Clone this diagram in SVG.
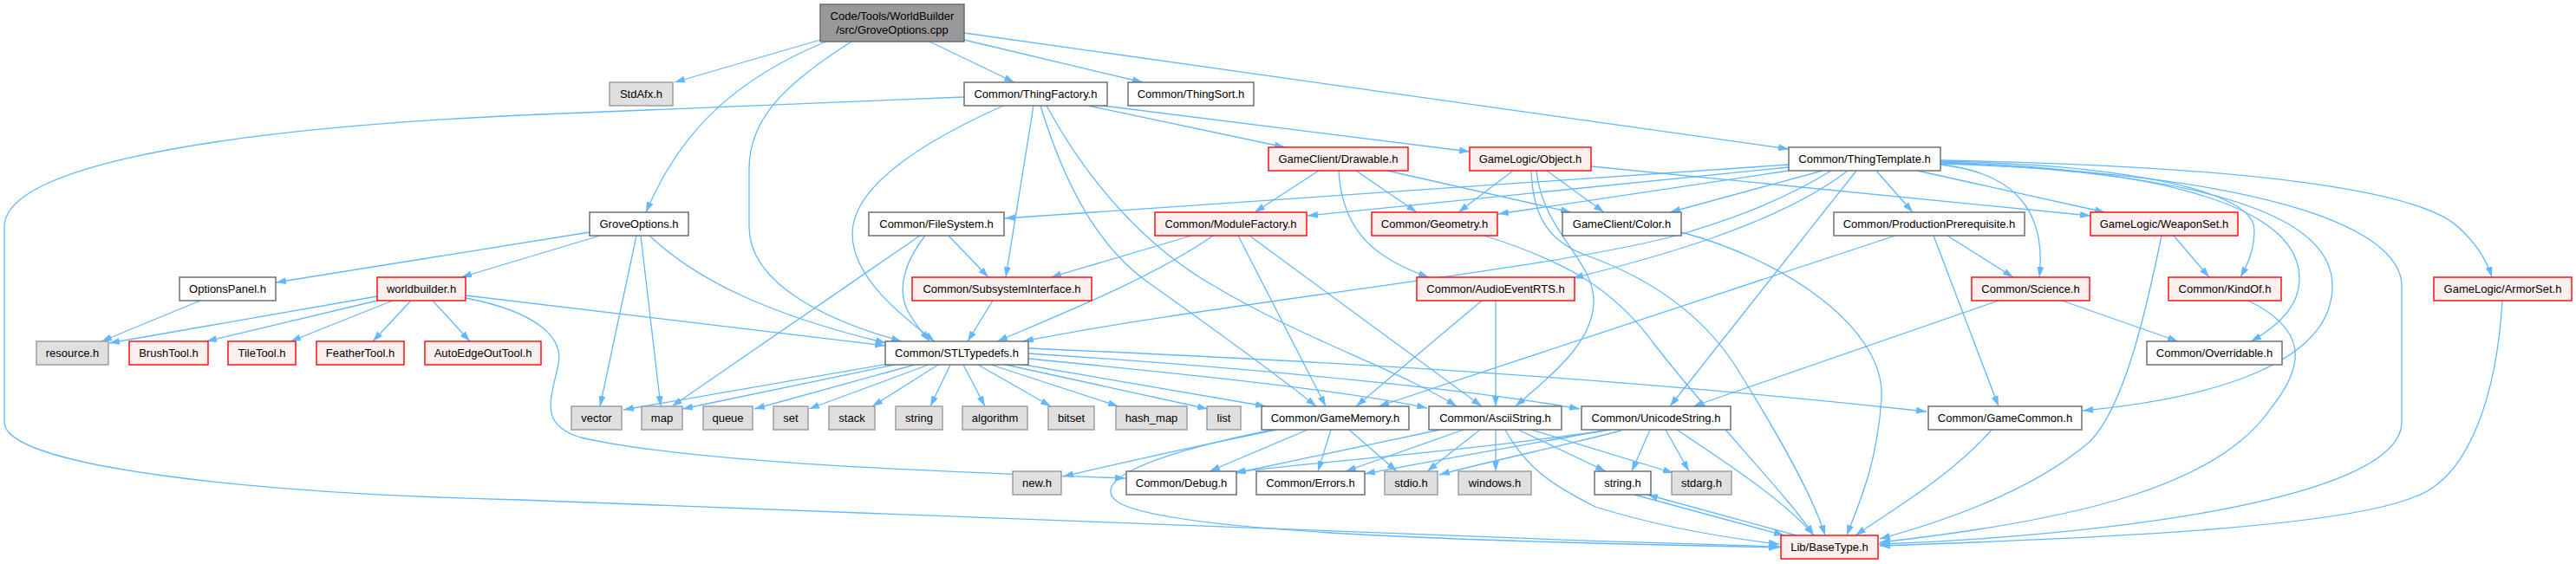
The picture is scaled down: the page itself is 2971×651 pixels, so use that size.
<svg xmlns="http://www.w3.org/2000/svg" width="2971" height="651" viewBox="0 0 2971 651">
<style>
.bg{fill:#fff}
rect{stroke-width:1.4}
.w{fill:#fff;stroke:#666}
.g{fill:#e0e0e0;stroke:#999}
.r{fill:#fff0f0;stroke:#f00}
.m{fill:#999;stroke:#666}
text{font-family:"Liberation Sans",Arial,sans-serif;font-size:13px;fill:#000;text-anchor:middle}
#edges path{fill:none;stroke:#63b8ff;stroke-width:1.3;marker-end:url(#arr)}
</style>
<defs>
<marker id="arr" viewBox="0 0 12 8" refX="12" refY="4" markerWidth="12" markerHeight="8" markerUnits="userSpaceOnUse" orient="auto">
<path d="M0,0 L12,4 L0,8 z" fill="#63b8ff"/>
</marker>
</defs>
<rect class="bg" x="0" y="0" width="2971" height="651"/>
<g id="edges">
<path d="M946,46 L778,95"/>
<path d="M953,48 C850,90 785,150 745,245"/>
<path d="M982,48 C900,100 864,140 864,195 L864,262 C864,330 960,372 1040,394"/>
<path d="M1072,48 L1170,95"/>
<path d="M1112,46 L1318,95"/>
<path d="M1112,38 L2063,172"/>
<path d="M1112,112 L600,133 C200,152 5,200 5,262 L5,487 C5,540 300,570 600,577 C900,588 1500,615 2054,631"/>
<path d="M1157,122 C1050,170 983,220 983,270 C983,320 1040,365 1078,394"/>
<path d="M1192,122 L1160,320"/>
<path d="M1200,122 C1230,220 1270,290 1330,330 C1400,380 1470,430 1518,469"/>
<path d="M1207,122 C1260,220 1330,290 1400,330 C1500,390 1620,430 1680,469"/>
<path d="M1255,122 L1482,170"/>
<path d="M1272,122 L1695,175"/>
<path d="M1521,197 L1447,245"/>
<path d="M1564,197 L1634,245"/>
<path d="M1544,197 C1548,270 1590,300 1648,320"/>
<path d="M1600,197 L1812,245"/>
<path d="M1745,197 L1682,245"/>
<path d="M1784,197 L1850,245"/>
<path d="M1835,192 L2411,249"/>
<path d="M1766,197 C1768,255 1790,280 1830,295 C1900,320 1960,360 2000,420 C2050,500 2090,570 2105,618"/>
<path d="M1772,197 C1780,270 1840,300 1838,350 C1836,400 1780,440 1748,469"/>
<path d="M1712,272 C1800,300 1860,330 1910,400 C1980,490 2060,570 2092,618"/>
<path d="M1939,268 C2060,300 2175,380 2170,460 C2165,540 2140,590 2130,618"/>
<path d="M2063,190 L1159,252"/>
<path d="M2063,193 L1508,249"/>
<path d="M2063,197 L1728,247"/>
<path d="M2102,197 L1926,245"/>
<path d="M2112,197 C2050,235 1990,255 1940,270 C1800,310 1400,350 1180,394"/>
<path d="M2131,197 C2050,260 1900,300 1814,321"/>
<path d="M2141,197 L1926,469"/>
<path d="M2164,197 L2206,245"/>
<path d="M2211,197 L2428,245"/>
<path d="M2238,190 C2330,200 2360,250 2352,320"/>
<path d="M2238,186 C2450,190 2600,220 2600,265 C2600,290 2592,305 2584,320"/>
<path d="M2238,187 C2500,195 2650,240 2652,320 C2653,350 2630,375 2596,394"/>
<path d="M2238,188 C2550,200 2690,250 2690,330 C2690,420 2550,460 2402,474"/>
<path d="M2238,189 C2600,200 2770,260 2770,330 L2770,487 C2770,580 2400,620 2167,628"/>
<path d="M2238,185 C2600,192 2790,220 2835,262 C2855,280 2868,300 2874,320"/>
<path d="M680,268 L318,326"/>
<path d="M692,272 L532,320"/>
<path d="M734,272 L692,469"/>
<path d="M739,272 L762,469"/>
<path d="M749,272 C800,320 880,362 1022,396"/>
<path d="M1061,272 L775,469"/>
<path d="M1067,272 C1045,300 1035,330 1045,355 C1055,375 1065,385 1072,394"/>
<path d="M1094,272 L1140,320"/>
<path d="M1374,272 L1212,320"/>
<path d="M1399,272 C1330,320 1230,360 1150,394"/>
<path d="M1428,272 L1529,469"/>
<path d="M1441,272 L1709,469"/>
<path d="M2186,272 L1590,469"/>
<path d="M2246,272 L2322,320"/>
<path d="M2230,272 L2305,469"/>
<path d="M2507,272 L2548,320"/>
<path d="M2493,272 C2475,360 2450,470 2410,510 C2340,570 2230,605 2168,622"/>
<path d="M231,347 L117,394"/>
<path d="M435,342 L126,396"/>
<path d="M435,347 L238,394"/>
<path d="M453,347 L335,394"/>
<path d="M474,347 L430,394"/>
<path d="M499,347 L542,394"/>
<path d="M537,341 L1021,399"/>
<path d="M537,344 C620,360 650,390 644,420 C636,460 620,490 670,505 C800,535 1100,545 1298,552"/>
<path d="M1145,347 L1116,394"/>
<path d="M1709,347 L1564,469"/>
<path d="M1725,347 L1725,469"/>
<path d="M2305,347 L1953,469"/>
<path d="M2378,347 L2512,394"/>
<path d="M2593,347 C2660,380 2660,420 2620,470 C2560,560 2400,600 2168,626"/>
<path d="M2886,347 C2880,450 2850,550 2786,573 C2700,610 2400,622 2168,630"/>
<path d="M1025,420 L719,473"/>
<path d="M1032,421 L787,472"/>
<path d="M1055,421 L870,472"/>
<path d="M1071,421 L933,472"/>
<path d="M1082,421 L1006,469"/>
<path d="M1096,421 L1073,469"/>
<path d="M1111,421 L1136,469"/>
<path d="M1128,421 L1212,469"/>
<path d="M1143,421 L1290,469"/>
<path d="M1160,421 L1393,472"/>
<path d="M1175,420 L1460,469"/>
<path d="M1186,414 C1350,430 1550,450 1646,471"/>
<path d="M1186,408 C1450,425 1700,450 1822,472"/>
<path d="M1186,402 C1600,420 1900,440 2222,475"/>
<path d="M1472,496 C1380,515 1290,535 1226,550"/>
<path d="M1508,496 L1395,544"/>
<path d="M1535,496 L1520,544"/>
<path d="M1556,496 L1611,544"/>
<path d="M1468,496 C1300,530 1260,560 1290,580 C1350,615 1700,625 2052,632"/>
<path d="M1661,496 L1425,546"/>
<path d="M1688,496 L1552,544"/>
<path d="M1707,496 L1646,544"/>
<path d="M1725,496 L1725,544"/>
<path d="M1736,496 C1760,540 1790,560 1840,585 C1920,610 2000,622 2052,628"/>
<path d="M1751,496 L1852,544"/>
<path d="M1766,496 L1930,546"/>
<path d="M1934,496 C2000,540 2060,580 2092,618"/>
<path d="M1903,496 L1882,544"/>
<path d="M1921,496 L1948,544"/>
<path d="M1857,496 C1700,520 1500,535 1424,545"/>
<path d="M1850,497 C1750,515 1650,532 1574,547"/>
<path d="M1870,497 C1800,515 1720,532 1660,548"/>
<path d="M2297,496 C2250,550 2180,590 2140,618"/>
<path d="M1885,571 L2058,618"/>
<path d="M2072,618 L1900,571"/>
</g>
<g id="n_main"><rect class="m" x="946" y="5" width="166" height="43"/><text x="1029" y="23">Code/Tools/WorldBuilder</text><text x="1029" y="39">/src/GroveOptions.cpp</text></g>
<g id="n_stdafx"><rect class="g" x="703" y="95" width="73" height="27"/><text x="739.5" y="113">StdAfx.h</text></g>
<g id="n_thingfactory"><rect class="w" x="1112" y="95" width="165" height="27"/><text x="1194.5" y="113">Common/ThingFactory.h</text></g>
<g id="n_thingsort"><rect class="w" x="1301" y="95" width="145" height="27"/><text x="1373.5" y="113">Common/ThingSort.h</text></g>
<g id="n_drawable"><rect class="r" x="1463" y="170" width="161" height="27"/><text x="1543.5" y="188">GameClient/Drawable.h</text></g>
<g id="n_object"><rect class="r" x="1695" y="170" width="140" height="27"/><text x="1765" y="188">GameLogic/Object.h</text></g>
<g id="n_thingtemplate"><rect class="w" x="2063" y="170" width="175" height="27"/><text x="2150.5" y="188">Common/ThingTemplate.h</text></g>
<g id="n_groveoptions"><rect class="w" x="680" y="245" width="114" height="27"/><text x="737" y="263">GroveOptions.h</text></g>
<g id="n_filesystem"><rect class="w" x="1002" y="245" width="156" height="27"/><text x="1080" y="263">Common/FileSystem.h</text></g>
<g id="n_modulefactory"><rect class="r" x="1332" y="245" width="175" height="27"/><text x="1419.5" y="263">Common/ModuleFactory.h</text></g>
<g id="n_geometry"><rect class="r" x="1582" y="245" width="145" height="27"/><text x="1654.5" y="263">Common/Geometry.h</text></g>
<g id="n_color"><rect class="w" x="1802" y="245" width="137" height="27"/><text x="1870.5" y="263">GameClient/Color.h</text></g>
<g id="n_prodprereq"><rect class="w" x="2115" y="245" width="220" height="27"/><text x="2225" y="263">Common/ProductionPrerequisite.h</text></g>
<g id="n_weaponset"><rect class="r" x="2411" y="245" width="170" height="27"/><text x="2496" y="263">GameLogic/WeaponSet.h</text></g>
<g id="n_optionspanel"><rect class="w" x="207" y="320" width="111" height="27"/><text x="262.5" y="338">OptionsPanel.h</text></g>
<g id="n_worldbuilder"><rect class="r" x="435" y="320" width="102" height="27"/><text x="486" y="338">worldbuilder.h</text></g>
<g id="n_subsystem"><rect class="r" x="1052" y="320" width="207" height="27"/><text x="1155.5" y="338">Common/SubsystemInterface.h</text></g>
<g id="n_audioevent"><rect class="r" x="1634" y="320" width="182" height="27"/><text x="1725" y="338">Common/AudioEventRTS.h</text></g>
<g id="n_science"><rect class="r" x="2274" y="320" width="136" height="27"/><text x="2342" y="338">Common/Science.h</text></g>
<g id="n_kindof"><rect class="r" x="2501" y="320" width="130" height="27"/><text x="2566" y="338">Common/KindOf.h</text></g>
<g id="n_armorset"><rect class="r" x="2807" y="320" width="159" height="27"/><text x="2886.5" y="338">GameLogic/ArmorSet.h</text></g>
<g id="n_resource"><rect class="g" x="42" y="394" width="83" height="27"/><text x="83.5" y="412">resource.h</text></g>
<g id="n_brushtool"><rect class="r" x="149" y="394" width="91" height="27"/><text x="194.5" y="412">BrushTool.h</text></g>
<g id="n_tiletool"><rect class="r" x="263" y="394" width="78" height="27"/><text x="302" y="412">TileTool.h</text></g>
<g id="n_feathertool"><rect class="r" x="365" y="394" width="101" height="27"/><text x="415.5" y="412">FeatherTool.h</text></g>
<g id="n_autoedge"><rect class="r" x="490" y="394" width="134" height="27"/><text x="557" y="412">AutoEdgeOutTool.h</text></g>
<g id="n_stl"><rect class="w" x="1021" y="394" width="165" height="27"/><text x="1103.5" y="412">Common/STLTypedefs.h</text></g>
<g id="n_overridable"><rect class="w" x="2476" y="394" width="156" height="27"/><text x="2554" y="412">Common/Overridable.h</text></g>
<g id="n_vector"><rect class="g" x="659" y="469" width="58" height="27"/><text x="688" y="487">vector</text></g>
<g id="n_map"><rect class="g" x="740" y="469" width="47" height="27"/><text x="763.5" y="487">map</text></g>
<g id="n_queue"><rect class="g" x="811" y="469" width="57" height="27"/><text x="839.5" y="487">queue</text></g>
<g id="n_set"><rect class="g" x="892" y="469" width="40" height="27"/><text x="912" y="487">set</text></g>
<g id="n_stack"><rect class="g" x="956" y="469" width="53" height="27"/><text x="982.5" y="487">stack</text></g>
<g id="n_string"><rect class="g" x="1033" y="469" width="54" height="27"/><text x="1060" y="487">string</text></g>
<g id="n_algorithm"><rect class="g" x="1110" y="469" width="75" height="27"/><text x="1147.5" y="487">algorithm</text></g>
<g id="n_bitset"><rect class="g" x="1209" y="469" width="53" height="27"/><text x="1235.5" y="487">bitset</text></g>
<g id="n_hashmap"><rect class="g" x="1287" y="469" width="82" height="27"/><text x="1328" y="487">hash_map</text></g>
<g id="n_list"><rect class="g" x="1392" y="469" width="39" height="27"/><text x="1411.5" y="487">list</text></g>
<g id="n_gamememory"><rect class="w" x="1455" y="469" width="170" height="27"/><text x="1540" y="487">Common/GameMemory.h</text></g>
<g id="n_asciistring"><rect class="w" x="1648" y="469" width="153" height="27"/><text x="1724.5" y="487">Common/AsciiString.h</text></g>
<g id="n_unicodestring"><rect class="w" x="1824" y="469" width="172" height="27"/><text x="1910" y="487">Common/UnicodeString.h</text></g>
<g id="n_gamecommon"><rect class="w" x="2224" y="469" width="177" height="27"/><text x="2312.5" y="487">Common/GameCommon.h</text></g>
<g id="n_new"><rect class="g" x="1168" y="544" width="56" height="27"/><text x="1196" y="562">new.h</text></g>
<g id="n_debug"><rect class="w" x="1299" y="544" width="127" height="27"/><text x="1362.5" y="562">Common/Debug.h</text></g>
<g id="n_errors"><rect class="w" x="1449" y="544" width="125" height="27"/><text x="1511.5" y="562">Common/Errors.h</text></g>
<g id="n_stdio"><rect class="g" x="1597" y="544" width="61" height="27"/><text x="1627.5" y="562">stdio.h</text></g>
<g id="n_windows"><rect class="g" x="1682" y="544" width="84" height="27"/><text x="1724" y="562">windows.h</text></g>
<g id="n_stringh"><rect class="w" x="1839" y="544" width="65" height="27"/><text x="1871.5" y="562">string.h</text></g>
<g id="n_stdarg"><rect class="g" x="1928" y="544" width="69" height="27"/><text x="1962.5" y="562">stdarg.h</text></g>
<g id="n_basetype"><rect class="r" x="2054" y="618" width="112" height="27"/><text x="2110" y="636">Lib/BaseType.h</text></g>
</svg>
